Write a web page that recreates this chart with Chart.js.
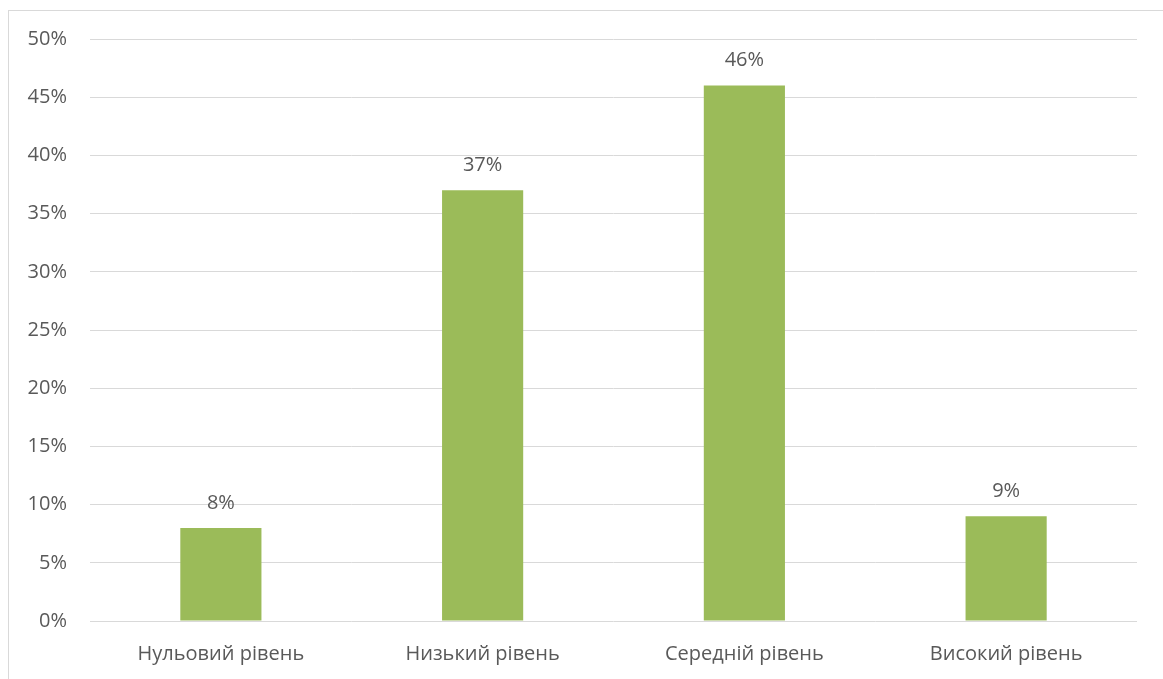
<!DOCTYPE html>
<html>
<head>
<meta charset="utf-8">
<script src="https://cdn.jsdelivr.net/npm/chart.js@4"></script>
<style>
  html, body { margin: 0; padding: 0; overflow: hidden; background: #fff; }
  #wrap { position: relative; width: 1163px; height: 679px; }
  #frame { position: absolute; left: 8px; top: 10px; width: 2000px; height: 2000px;
           border: 1px solid #d9d9d9; pointer-events: none; }
</style>
</head>
<body>
<div id="wrap">
  <canvas id="chart" width="1163" height="679"></canvas>
  <div id="frame"></div>
</div>
<script>
// chart data
const categories = ['Нульовий рівень', 'Низький рівень', 'Середній рівень', 'Високий рівень'];
const values = [8, 37, 46, 9];
const yTicks = [0, 5, 10, 15, 20, 25, 30, 35, 40, 45, 50];

const textColor = '#595959';
const fontFamily = '"Open Sans", "Noto Sans", sans-serif';
const fontSize = 20;

// draws the value above every bar
const barLabels = {
    id: 'barLabels',
    afterDatasetsDraw(chart) {
        const ctx = chart.ctx;
        const meta = chart.getDatasetMeta(0);
        ctx.save();
        ctx.fillStyle = textColor;
        ctx.font = fontSize + 'px ' + fontFamily;
        ctx.textAlign = 'center';
        ctx.textBaseline = 'middle';
        meta.data.forEach((bar, i) => {
            ctx.fillText(values[i] + '%', bar.x, bar.y - 25);
        });
        ctx.restore();
    }
};

const ctx = document.getElementById('chart').getContext('2d');
const chart = new Chart(ctx, {
    type: 'bar',
    data: {
        labels: categories,
        datasets: [{
            data: values,
            backgroundColor: '#9bbb59',
            borderWidth: 0,
            categoryPercentage: 1,
            barPercentage: 0.31
        }]
    },
    options: {
        responsive: false,
        animation: false,
        layout: {
            padding: { left: 0, right: 26, top: 39, bottom: 0 }
        },
        plugins: {
            legend: { display: false },
            tooltip: { enabled: false }
        },
        scales: {
            x: {
                grid: { display: false, drawTicks: false },
                border: { display: false },
                ticks: {
                    color: textColor,
                    font: { family: fontFamily, size: fontSize },
                    padding: 21,
                    maxRotation: 0
                },
                afterFit: scale => { scale.height = 58; }
            },
            y: {
                min: 0,
                max: 50,
                afterBuildTicks: scale => {
                    scale.ticks = yTicks.map(v => ({ value: v }));
                },
                grid: { color: '#d9d9d9', lineWidth: 1, drawTicks: false },
                border: { display: false },
                ticks: {
                    color: textColor,
                    font: { family: fontFamily, size: fontSize },
                    padding: 23,
                    callback: v => v + '%'
                },
                afterFit: scale => { scale.width = 90; }
            }
        }
    },
    plugins: [barLabels]
});
</script>
</body>
</html>
